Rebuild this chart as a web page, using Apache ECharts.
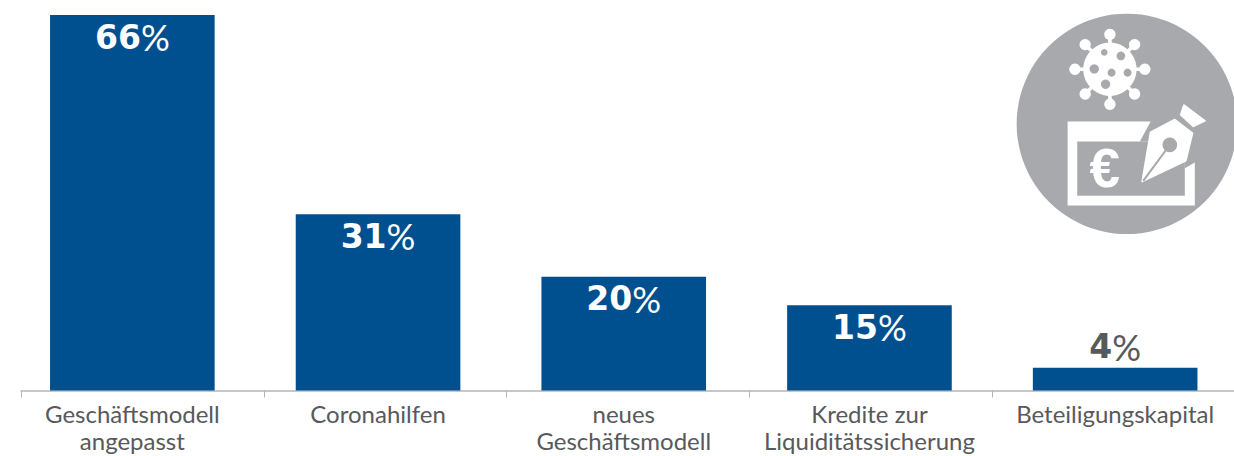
<!DOCTYPE html>
<html>
<head>
<meta charset="utf-8">
<style>
  html, body { margin: 0; padding: 0; background: #fff; }
  #chart { width: 1234px; height: 456px; }
</style>
</head>
<body>
<div id="chart"></div>
<script src="https://cdn.jsdelivr.net/npm/echarts@6/dist/echarts.min.js"></script>
<script>
const categories = ['Geschäftsmodell\nangepasst', 'Coronahilfen', 'neues\nGeschäftsmodell', 'Kredite zur\nLiquiditätssicherung', 'Beteiligungskapital']
const shares = [66, 31, 20, 15, 4]
const SMALL_SHARE = 5

const BLUE = '#00508f'
const GREY = '#a7a9ac'
const TEXT = '#58595b'
const FONT = 'Lato, sans-serif'

const chart = echarts.init(document.getElementById('chart'), null, { renderer: 'svg' })

// icon is drawn in the coordinates of a 3x crop, then scaled down
function virusParts() {
    const parts = [{ type: 'circle', shape: { cx: 330, cy: 208, r: 80 }, style: { fill: '#fff' } }]
    for (let i = 0; i < 8; i++) {
        const a = i * Math.PI / 4
        const c = Math.cos(a)
        const s = Math.sin(a)
        parts.push({ type: 'line', shape: { x1: 330, y1: 208, x2: 330 + 100 * c, y2: 208 + 100 * s }, style: { stroke: '#fff', lineWidth: 11 } })
        parts.push({ type: 'circle', shape: { cx: 330 + 105 * c, cy: 208 + 105 * s, r: 17 }, style: { fill: '#fff' } })
    }
    const holes = [[313, 157, 10], [363, 168, 13], [283, 207, 14], [335, 218, 12], [383, 218, 12], [317, 253, 14]]
    holes.forEach(h => parts.push({ type: 'circle', shape: { cx: h[0], cy: h[1], r: h[2] }, style: { fill: GREY } }))
    return parts
}

const iconParts = [
    { type: 'circle', shape: { cx: 381, cy: 372, r: 331 }, style: { fill: GREY } },
    ...virusParts(),
    { type: 'rect', shape: { x: 203, y: 365, width: 382, height: 252 }, style: { fill: '#fff' } },
    { type: 'rect', shape: { x: 232, y: 425, width: 323, height: 163 }, style: { fill: GREY } },
    { type: 'polygon', shape: { points: [[455, 360], [590, 360], [590, 485], [555, 505], [555, 425], [420, 425]] }, style: { fill: GREY } },
    { type: 'text', style: { x: 315, y: 505, text: '€', fill: '#fff', font: 'bold 165px "Liberation Sans", sans-serif', align: 'center', verticalAlign: 'middle' } },
    { type: 'polygon', shape: { points: [[427, 545], [452, 397], [525, 359], [578, 400], [558, 483]] }, style: { fill: '#fff', stroke: '#fff', lineWidth: 5, lineJoin: 'round' } },
    { type: 'polygon', shape: { points: [[552, 315], [616, 363], [580, 380], [542, 345]] }, style: { fill: '#fff', stroke: '#fff', lineWidth: 4, lineJoin: 'round' } },
    { type: 'line', shape: { x1: 430, y1: 543, x2: 510, y2: 435 }, style: { stroke: GREY, lineWidth: 6 } },
    { type: 'circle', shape: { cx: 510, cy: 435, r: 22 }, style: { fill: GREY } }
]

const option = {
    animation: false,
    grid: [
        { left: 9.5, right: -4, top: 15, bottom: 65.5, outerBoundsMode: 'none' },
        { left: 21, right: -1, top: 15, bottom: 65.5, outerBoundsMode: 'none' }
    ],
    xAxis: [
        {
            type: 'category',
            gridIndex: 0,
            data: categories,
            axisLine: { show: false },
            axisTick: { show: false },
            axisLabel: { color: TEXT, fontFamily: FONT, fontSize: 24, lineHeight: 27, margin: 9, interval: 0 }
        },
        {
            // the baseline and its ticks sit slightly off the bars
            type: 'category',
            gridIndex: 1,
            data: categories,
            axisLine: { lineStyle: { color: '#b5b5b5', width: 1.5 } },
            axisTick: { show: true, interval: 0, length: 7, lineStyle: { color: '#b5b5b5', width: 1 } },
            axisLabel: { show: false }
        }
    ],
    yAxis: [
        { type: 'value', gridIndex: 0, min: 0, max: 66, show: false },
        { type: 'value', gridIndex: 1, min: 0, max: 66, show: false }
    ],
    series: [
        {
            type: 'bar',
            xAxisIndex: 0,
            yAxisIndex: 0,
            barWidth: '67%',
            itemStyle: { color: BLUE },
            data: shares.map(v => ({
                value: v,
                label: v < SMALL_SHARE
                    ? { position: 'top', distance: 3, rich: { num: { color: TEXT }, pct: { color: TEXT } } }
                    : { position: 'insideTop', distance: 4 }
            })),
            label: {
                show: true,
                formatter: p => `{num|${p.value}}{pct|%}`,
                rich: {
                    num: { color: '#fff', fontFamily: '"DejaVu Sans"', fontWeight: 'bold', fontSize: 33 },
                    pct: { color: '#fff', fontFamily: FONT, fontWeight: 'normal', fontSize: 36 }
                }
            }
        }
    ],
    graphic: [
        { type: 'group', x: 1000, y: 0, scaleX: 1 / 3, scaleY: 1 / 3, silent: true, children: iconParts }
    ]
}

chart.setOption(option)
</script>
</body>
</html>
